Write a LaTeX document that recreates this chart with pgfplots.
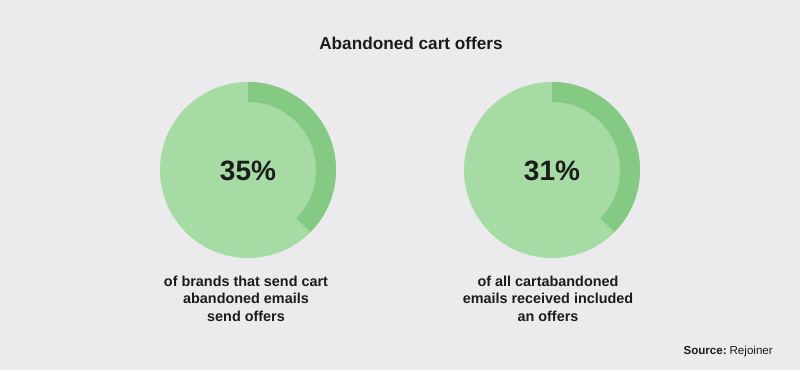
\documentclass[border=0pt]{standalone}
\usepackage{pgfplots}
\pgfplotsset{compat=1.18}
\usepackage{pgfplotstable}
\usepackage{fontspec}
\setmainfont{Liberation Sans}
\definecolor{bg}{HTML}{EBEBED}
\definecolor{lightg}{HTML}{A6DBA4}
\definecolor{darkg}{HTML}{85CA83}
\definecolor{txt}{HTML}{1C1C1C}

% pie: value written in the centre, share = arc length (percent)
\pgfplotstableread{
pie label share cx
0 35 37.5 248
1 31 37.5 552
}\pies

\begin{document}
\begin{tikzpicture}[x=1pt,y=1pt]
\fill[bg] (0,0) rectangle (800,370);
\foreach \i in {0,1}{
  \pgfplotstablegetelem{\i}{label}\of\pies \let\lab\pgfplotsretval
  \pgfplotstablegetelem{\i}{share}\of\pies \let\shr\pgfplotsretval
  \pgfplotstablegetelem{\i}{cx}\of\pies \let\cx\pgfplotsretval
  \begin{axis}[at={(\cx pt,200pt)},anchor=center,width=176pt,height=176pt,
    scale only axis,hide axis,xmin=-1,xmax=1,ymin=-1,ymax=1,clip=false]
    \fill[lightg] (axis cs:0,0) circle[radius=88pt];
    \fill[darkg] (axis cs:0,0) -- (axis cs:0,1)
      arc[start angle=90,end angle={90-3.6*\shr},radius=88pt] -- cycle;
    \fill[lightg] (axis cs:0,0) circle[radius=68pt];
    \node[anchor=base,text=txt,font=\fontsize{28}{30}\selectfont\bfseries]
      at ([yshift=-10.7pt]axis cs:0,0) {\lab\%};
  \end{axis}
}
\node[anchor=base,text=txt,font=\fontsize{17.2}{20}\selectfont\bfseries] at (411,320) {Abandoned cart offers};
\begin{scope}[every node/.style={anchor=base,text=txt,font=\fontsize{14.4}{17}\selectfont\bfseries}]
\node at (246,285.5) {} ;
\end{scope}
\begin{scope}[every node/.style={anchor=base,text=txt,font=\fontsize{14.4}{17}\selectfont\bfseries}]
\node at (246,84) {of brands that send cart};
\node at (246,66.5) {abandoned emails};
\node at (246,49) {send offers};
\node at (548,84) {of all cartabandoned};
\node at (548,66.5) {emails received included};
\node at (548,49) {an offers};
\end{scope}
\node[anchor=base east,text=txt,font=\fontsize{11.6}{14}\selectfont,inner xsep=0pt] at (773,16) {\textbf{Source:}\hspace{0.25em}Rejoiner};
\end{tikzpicture}
\end{document}
